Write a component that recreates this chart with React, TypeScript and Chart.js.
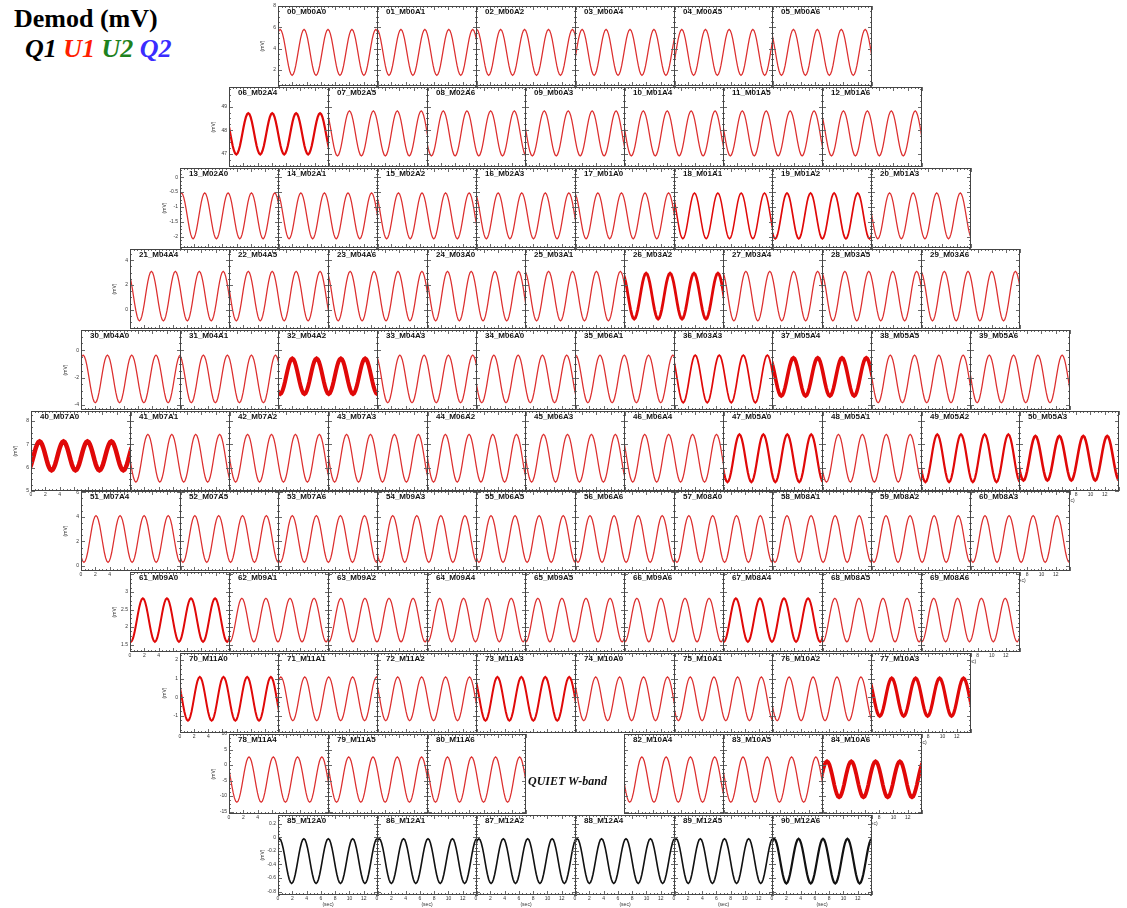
import React, { useEffect, useRef } from "react";
import { Chart, registerables } from "chart.js";
Chart.register(...registerables);

// ---------- DATA ----------
const ROWS: string[][] = [
  ["00_M00A0", "01_M00A1", "02_M00A2", "03_M00A4", "04_M00A5", "05_M00A6"],
  ["06_M02A4", "07_M02A5", "08_M02A6", "09_M00A3", "10_M01A4", "11_M01A5", "12_M01A6"],
  ["13_M02A0", "14_M02A1", "15_M02A2", "16_M02A3", "17_M01A0", "18_M01A1", "19_M01A2", "20_M01A3"],
  ["21_M04A4", "22_M04A5", "23_M04A6", "24_M03A0", "25_M03A1", "26_M03A2", "27_M03A4", "28_M03A5", "29_M03A6"],
  ["30_M04A0", "31_M04A1", "32_M04A2", "33_M04A3", "34_M06A0", "35_M06A1", "36_M03A3", "37_M05A4", "38_M05A5", "39_M05A6"],
  ["40_M07A0", "41_M07A1", "42_M07A2", "43_M07A3", "44_M06A2", "45_M06A3", "46_M06A4", "47_M05A0", "48_M05A1", "49_M05A2", "50_M05A3"],
  ["51_M07A4", "52_M07A5", "53_M07A6", "54_M09A3", "55_M06A5", "56_M06A6", "57_M08A0", "58_M08A1", "59_M08A2", "60_M08A3"],
  ["61_M09A0", "62_M09A1", "63_M09A2", "64_M09A4", "65_M09A5", "66_M09A6", "67_M08A4", "68_M08A5", "69_M08A6"],
  ["70_M11A0", "71_M11A1", "72_M11A2", "73_M11A3", "74_M10A0", "75_M10A1", "76_M10A2", "77_M10A3"],
  ["78_M11A4", "79_M11A5", "80_M11A6", "", "82_M10A4", "83_M10A5", "84_M10A6"],
  ["85_M12A0", "86_M12A1", "87_M12A2", "88_M12A4", "89_M12A5", "90_M12A6"],
];

// y axis range of each row (mV)
const ROW_Y_MIN = [0.5, 46.45, -2.38, -1.55, -4.37, 5.0, -0.4, 1.29, -1.93, -15.8, -0.85];
const ROW_Y_MAX = [8.0, 49.83, 0.31, 4.9, 1.48, 8.42, 6.1, 3.57, 2.38, 10.0, 0.33];
const ROW_Y_TICKS: number[][] = [
  [2, 4, 6, 8],
  [47, 48, 49],
  [-2, -1.5, -1, -0.5, 0],
  [0, 2, 4],
  [-4, -2, 0],
  [5, 6, 7, 8],
  [0, 2, 4, 6],
  [1.5, 2, 2.5, 3],
  [-1, 0, 1, 2],
  [-15, -10, -5, 0, 5, 10],
  [-0.8, -0.6, -0.4, -0.2, 0, 0.2],
];
// signal mid level and half amplitude (mV) per row
const ROW_CENTER = [3.65, 47.87, -1.3, 1.1, -2.1, 6.4, 2.2, 2.2, -0.09, -4.7, -0.35];
const ROW_AMP = [2.15, 0.95, 0.77, 2.0, 1.74, 1.02, 1.9, 0.62, 1.18, 7.3, 0.33];
// modulation period (sec) per row
const ROW_PERIOD = [3.35, 3.35, 3.3, 3.35, 3.4, 3.35, 3.37, 3.37, 3.35, 3.4, 3.42];
// time (sec) of a signal maximum, per panel
const PEAK_TIME: number[][] = [
  [0.3, 0.0, 0.1, 1.0, 1.1, 3.0],
  [2.7, 3.0, 2.3, 2.7, 2.7, 2.7, 3.0],
  [0.2, 3.2, 3.0, 3.1, 3.2, 2.9, 2.1, 2.6],
  [3.0, 2.7, 3.1, 2.9, 3.3, 3.1, 3.2, 3.2, 3.3],
  [0.3, 3.3, 2.0, 3.2, 2.5, 3.5, 3.0, 3.0, 2.7, 2.7],
  [1.2, 2.5, 2.6, 2.6, 2.6, 2.6, 2.9, 2.3, 2.3, 2.3, 2.3],
  [2.1, 2.1, 2.0, 2.2, 2.1, 2.1, 2.1, 2.1, 2.1, 2.1],
  [1.8, 1.8, 1.8, 1.8, 1.8, 1.8, 1.8, 1.8, 1.8],
  [2.8, 0.4, 2.9, 3.0, 2.9, 2.3, 2.4, 2.9],
  [2.8, 2.9, 2.9, 0.0, 2.5, 2.8, 0.7],
  [0.2, 0.3, 0.4, 0.3, 0.3, 0.3],
];
// panels whose level / amplitude differ from their row (mV)
const PANEL_LEVEL: Record<string, [number, number]> = {
  "06_M02A4": [47.85, 0.87],
  "26_M03A2": [1.1, 1.85],
  "32_M04A2": [-1.9, 1.3],
  "37_M05A4": [-1.95, 1.4],
  "40_M07A0": [6.5, 0.62],
  "50_M05A3": [6.4, 0.95],
  "77_M10A3": [0.0, 1.03],
  "84_M10A6": [-4.6, 5.8],
};
// one modulation period of the normalised demodulated signal
const WAVE = [1, 0.951, 0.809, 0.588, 0.309, 0, -0.309, -0.588, -0.809, -0.951, -1, -0.951, -0.809, -0.588, -0.309, 0, 0.309, 0.588, 0.809, 0.951];
const X_TICKS = [0, 2, 4, 6, 8, 10, 12];

// ---------- STYLE ----------
const LINE_WIDTH: Record<string, number> = {
  "06_M02A4": 2.2, "18_M01A1": 1.5, "19_M01A2": 1.7, "26_M03A2": 2.8, "32_M04A2": 4, "36_M03A3": 1.7,
  "37_M05A4": 3.6, "40_M07A0": 4.5, "47_M05A0": 2.2, "49_M05A2": 2.2, "50_M05A3": 2.6, "61_M09A0": 2,
  "67_M08A4": 2, "70_M11A0": 2, "73_M11A3": 2, "77_M10A3": 3.2, "84_M10A6": 3.8, "90_M12A6": 2.2,
};
const FONT = '"Liberation Sans", Arial, Helvetica, sans-serif';
const YW = 18, XH = 13, PT = 6, PR = 4, FH = 80;
const LEFT0 = 278.3, COL_PITCH = 98.8, HALF_SHIFT = 49.4, TOP0 = 6, ROW_PITCH = 80.9;

function wavePoints(t0: number, period: number, center: number, amp: number) {
  const n = WAVE.length;
  const dt = period / n;
  const pts: { x: number; y: number }[] = [];
  let k = -Math.ceil((t0 + 0.6) / dt);
  for (;; k++) {
    const t = t0 + k * dt;
    if (t > 14.6) break;
    pts.push({ x: t, y: center + amp * WAVE[((k % n) + n) % n] });
  }
  return pts;
}

function framePlugin(title: string, yTicks: number[], yMin: number, yMax: number) {
  return {
    id: "frame",
    beforeDraw(chart: any) {
      const { ctx, chartArea: a } = chart;
      ctx.save();
      ctx.fillStyle = "#ffffff";
      ctx.fillRect(a.left, a.top, a.right - a.left, a.bottom - a.top);
      ctx.restore();
    },
    afterDatasetsDraw(chart: any) {
      const { ctx, chartArea: a, scales } = chart;
      const xs = scales.x, ys = scales.y;
      ctx.save();
      ctx.strokeStyle = "#6a6a6a";
      ctx.lineWidth = 1;
      ctx.beginPath();
      for (let j = 0; j <= 28; j++) {
        const v = j * 0.5;
        const len = j % 4 === 0 ? 4 : 2;
        const px = Math.round(xs.getPixelForValue(v)) + 0.5;
        ctx.moveTo(px, a.bottom);
        ctx.lineTo(px, a.bottom - len);
        ctx.moveTo(px, a.top);
        ctx.lineTo(px, a.top + len);
      }
      const step = yTicks[1] - yTicks[0];
      const minor = step / 4;
      const first = yTicks[0] - Math.floor((yTicks[0] - yMin) / minor + 1e-9) * minor;
      for (let j = 0; ; j++) {
        const v = first + j * minor;
        if (v > yMax + 1e-9) break;
        const rel = (v - yTicks[0]) / step;
        const len = Math.abs(rel - Math.round(rel)) < 1e-6 ? 4 : 2;
        const py = Math.round(ys.getPixelForValue(v)) + 0.5;
        ctx.moveTo(a.left, py);
        ctx.lineTo(a.left + len, py);
        ctx.moveTo(a.right, py);
        ctx.lineTo(a.right - len, py);
      }
      ctx.stroke();
      ctx.strokeStyle = "#444";
      ctx.strokeRect(a.left + 0.5, a.top + 0.5, a.right - a.left - 1, a.bottom - a.top - 1);
      ctx.fillStyle = "#111";
      ctx.font = `bold 8px ${FONT}`;
      ctx.textBaseline = "alphabetic";
      ctx.fillText(title, a.left + 9, a.top + 8);
      ctx.restore();
    },
  };
}

type PanelProps = { r: number; i: number; name: string };

function Panel({ r, i, name }: PanelProps) {
  const ref = useRef<HTMLCanvasElement>(null);
  const nRow = ROWS.length;
  const shift = r <= 5 ? r : nRow - 1 - r;
  const rowLeft = LEFT0 - HALF_SHIFT * shift;
  const frameLeft = Math.round(rowLeft + i * COL_PITCH);
  const frameRight = Math.round(rowLeft + (i + 1) * COL_PITCH);
  const FW = frameRight - frameLeft + 1;
  const frameTop = Math.round(TOP0 + r * ROW_PITCH);
  const W = YW + FW + PR;
  const H = PT + FH + XH;

  useEffect(() => {
    const canvas = ref.current;
    if (!canvas) return;
    const isFirst = i === 0;
    const isLast = i === ROWS[r].length - 1;
    const bottomRow = r === nRow - 1;
    const lower = r >= 5;
    let xLabels: number[] = [];
    if (bottomRow) xLabels = X_TICKS;
    else if (lower && isFirst) xLabels = [0, 2, 4];
    else if (lower && isLast) xLabels = [8, 10, 12];
    const showXTitle = bottomRow || (lower && isLast);
    const level = PANEL_LEVEL[name] || [ROW_CENTER[r], ROW_AMP[r]];
    const pts = wavePoints(PEAK_TIME[r][i], ROW_PERIOD[r], level[0], level[1]);
    const noisy = LINE_WIDTH[name] !== undefined;
    const color = bottomRow ? "#111111" : noisy ? "#e00808" : "#dc2e2e";
    const width = LINE_WIDTH[name] || (bottomRow ? 1.6 : 1.25);
    const yTicks = ROW_Y_TICKS[r];
    const yMin = ROW_Y_MIN[r], yMax = ROW_Y_MAX[r];

    const chart = new Chart(canvas, {
      type: "line",
      data: {
        datasets: [
          {
            data: pts,
            borderColor: color,
            borderWidth: width,
            pointRadius: 0,
            tension: 0,
            fill: false,
            clip: 0,
          } as any,
        ],
      },
      options: {
        animation: false,
        responsive: false,
        events: [],
        layout: { padding: { left: 0, right: PR, top: PT, bottom: 0 } },
        plugins: { legend: { display: false }, tooltip: { enabled: false } },
        scales: {
          x: {
            type: "linear",
            min: 0,
            max: 14,
            afterFit: (s: any) => { s.height = XH; },
            afterBuildTicks: (s: any) => { s.ticks = X_TICKS.map((v) => ({ value: v })); },
            grid: { display: false, drawTicks: false },
            border: { display: false },
            ticks: {
              display: xLabels.length > 0,
              autoSkip: false,
              maxRotation: 0,
              padding: 1,
              color: "#333",
              font: { size: 5, family: FONT },
              callback: (v: any) => (xLabels.indexOf(Number(v)) >= 0 ? String(v) : ""),
            },
            title: { display: showXTitle, text: "(sec)", color: "#333", font: { size: 5, family: FONT }, padding: 0 },
          },
          y: {
            type: "linear",
            min: yMin,
            max: yMax,
            afterFit: (s: any) => { s.width = YW; },
            afterBuildTicks: (s: any) => { s.ticks = yTicks.map((v) => ({ value: v })); },
            grid: { display: false, drawTicks: false },
            border: { display: false },
            ticks: {
              display: isFirst,
              autoSkip: false,
              padding: 2,
              color: "#333",
              font: { size: 5, family: FONT },
              callback: (v: any) => String(Math.round(Number(v) * 100) / 100),
            },
            title: { display: isFirst, text: "(mV)", color: "#333", font: { size: 5, family: FONT }, padding: 0 },
          },
        },
      } as any,
      plugins: [framePlugin(name, yTicks, yMin, yMax) as any],
    });
    return () => chart.destroy();
  }, []);

  return (
    <canvas
      ref={ref}
      width={W}
      height={H}
      style={{
        position: "absolute",
        left: frameLeft - YW,
        top: frameTop - PT,
        width: W,
        height: H,
        zIndex: r * 20 + (20 - i),
      }}
    />
  );
}

export default function App() {
  const serif = '"Liberation Serif", "Times New Roman", Times, serif';
  return (
    <div
      style={{
        position: "absolute",
        left: 0,
        top: 0,
        width: 1127,
        height: 908,
        overflow: "hidden",
        background: "#ffffff",
      }}
    >
      {ROWS.map((row, r) =>
        row.map((name, i) => (name ? <Panel key={`${r}-${i}`} r={r} i={i} name={name} /> : null))
      )}
      <div
        style={{
          position: "absolute",
          left: 14,
          top: 6,
          fontFamily: serif,
          fontWeight: "bold",
          fontSize: 26,
          lineHeight: "26px",
          color: "#000",
          whiteSpace: "nowrap",
          zIndex: 500,
        }}
      >
        Demod (mV)
      </div>
      <div
        style={{
          position: "absolute",
          left: 25,
          top: 36,
          fontFamily: serif,
          fontWeight: "bold",
          fontStyle: "italic",
          fontSize: 26,
          lineHeight: "26px",
          whiteSpace: "nowrap",
          zIndex: 500,
        }}
      >
        <span style={{ color: "#000000" }}>Q1</span>{" "}
        <span style={{ color: "#ff1e00" }}>U1</span>{" "}
        <span style={{ color: "#1e821e" }}>U2</span>{" "}
        <span style={{ color: "#3a2cff" }}>Q2</span>
      </div>
      <div
        style={{
          position: "absolute",
          left: 528,
          top: 775,
          fontFamily: serif,
          fontWeight: "bold",
          fontStyle: "italic",
          fontSize: 12,
          lineHeight: "12px",
          color: "#111",
          whiteSpace: "nowrap",
          zIndex: 500,
        }}
      >
        QUIET W-band
      </div>
    </div>
  );
}
